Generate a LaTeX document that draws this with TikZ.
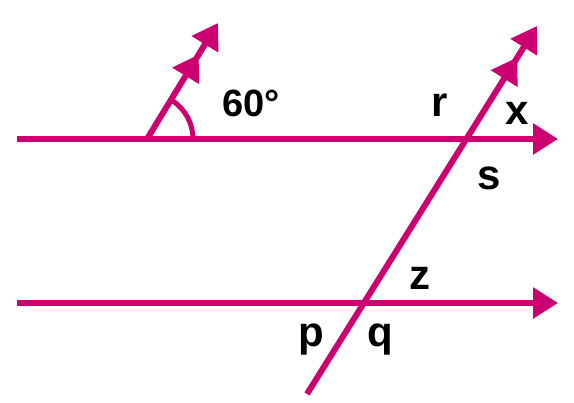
\documentclass[tikz,border=0pt]{standalone}
\usepackage{fontspec}
\setmainfont{Liberation Sans}
\usetikzlibrary{arrows.meta}
\definecolor{mag}{RGB}{204,0,112}
\tikzset{
  ln/.style={draw=mag, line width=6pt},
  onehead/.style={-{Triangle[length=25pt,width=30pt]}},
  twohead/.style={-{Triangle[length=25pt,width=30pt,sep=12pt]Triangle[length=25pt,width=30pt]}},
  lbl/.style={anchor=base, inner sep=0pt, font=\fontsize{42}{42}\selectfont\bfseries},
  deg/.style={anchor=base, inner sep=0pt, font=\fontsize{38}{38}\selectfont\bfseries}
}
\begin{document}
\begin{tikzpicture}[x=1pt,y=-1pt]
\useasboundingbox (0,0) rectangle (574,403);
% coordinates
\coordinate (T0) at (17,139);
\coordinate (T1) at (558,139);
\coordinate (B0) at (17,303);
\coordinate (B1) at (558,303);
\coordinate (L0) at (307,394);
\coordinate (L1) at (537,26);
\coordinate (R0) at (147,139);
\coordinate (R1) at (218,23);
% lines
\draw[ln, onehead] (T0) -- (T1);
\draw[ln, onehead] (B0) -- (B1);
\draw[ln, twohead] (L0) -- (L1);
\draw[ln, twohead] (R0) -- (R1);
% angle arc
\draw[draw=mag, line width=5pt] (R0) ++(46,0) arc[start angle=0, end angle=-58, radius=46];
% labels
\node[deg] (a) at (251,117) {60°};
\node[lbl] (r) at (440,117) {r};
\node[lbl] (x) at (517,125) {x};
\node[lbl] (s) at (489,190) {s};
\node[lbl] (z) at (420,290) {z};
\node[lbl] (p) at (311,347) {p};
\node[lbl] (q) at (380,347) {q};
\end{tikzpicture}
\end{document}
